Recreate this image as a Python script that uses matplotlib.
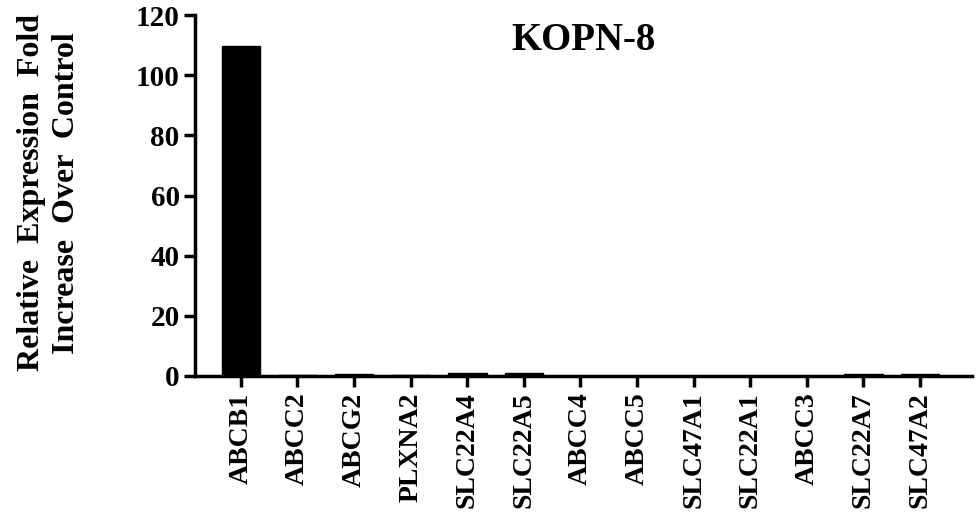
import numpy as np
import matplotlib
matplotlib.use('Agg')
import matplotlib.pyplot as plt

genes = ['ABCB1', 'ABCC2', 'ABCG2', 'PLXNA2', 'SLC22A4', 'SLC22A5', 'ABCC4',
         'ABCC5', 'SLC47A1', 'SLC22A1', 'ABCC3', 'SLC22A7', 'SLC47A2']
fold = [109.7, 0.3, 0.5, 0.4, 1.0, 1.0, 0.0, 0.0, 0.0, 0.0, 0.0, 0.5, 0.5]

plt.rcParams['font.family'] = 'Liberation Serif'
plt.rcParams['font.weight'] = 'bold'

fig = plt.figure(figsize=(9.8, 5.2), dpi=100)
ax = fig.add_axes([0.199, 0.277, 0.793, 0.694])

x = np.arange(len(genes))
ax.bar(x, fold, width=0.68, color='black', edgecolor='black', linewidth=1)

ax.set_xlim(-0.81, 12.92)
ax.set_ylim(0, 120)
ax.set_yticks(np.arange(0, 121, 20))
ax.set_xticks(x)
ax.set_xticklabels(genes, rotation=90, fontsize=20, fontweight='bold')
ax.tick_params(axis='y', labelsize=21, width=2.5, length=8, direction='out', pad=3)
ax.tick_params(axis='x', width=2.5, length=8, direction='out', pad=4)
for lab in ax.get_yticklabels():
    lab.set_fontweight('bold')

for s in ['top', 'right']:
    ax.spines[s].set_visible(False)
for s in ['left', 'bottom']:
    ax.spines[s].set_linewidth(2.5)

fig.text(49 / 980, 0.629, 'Relative  Expression  Fold\nIncrease  Over  Control',
         rotation=90, ha='center', va='center', fontsize=23, fontweight='bold',
         linespacing=1.25)
ax.text(0.5, 0.93, 'KOPN-8', transform=ax.transAxes, ha='center', va='center',
        fontsize=28, fontweight='bold')

fig.savefig('out.png', dpi=100)
